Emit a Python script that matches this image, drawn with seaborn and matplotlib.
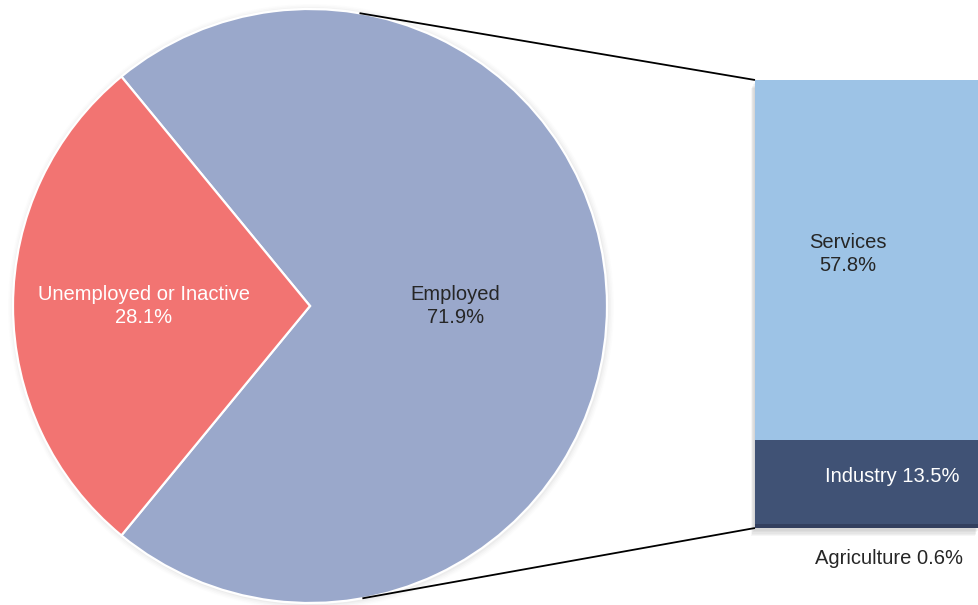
import numpy as np
import matplotlib
matplotlib.use("Agg")
import matplotlib.pyplot as plt
import matplotlib.patheffects as pe
from matplotlib.patches import Circle
import seaborn as sns

sns.set_theme(style="white")
plt.rcParams["font.family"] = ["Liberation Sans", "DejaVu Sans"]

# Population status (pie)
pie_labels = ["Employed", "Unemployed or Inactive"]
pie_values = [71.9, 28.1]
pie_colors = ["#9AA8CB", "#F27472"]

# Breakdown of the employed share by sector (stacked bar, bottom to top)
sector_labels = ["Agriculture", "Industry", "Services"]
sector_values = [0.6, 13.5, 57.8]
sector_colors = ["#333F5E", "#405275", "#9DC3E6"]

W, H = 979, 605
fig = plt.figure(figsize=(W / 100, H / 100), dpi=100)

# stacked bar of the employed share
bx0, by0, bw, bh = 755, 77, 224, 448
bax = fig.add_axes([bx0 / W, by0 / H, bw / W, bh / H])
bax.set_zorder(1)
cum = np.cumsum(sector_values)
for k in range(len(cum) - 1, -1, -1):
    sns.barplot(x=[0], y=[cum[k]], color=sector_colors[k], width=1.0,
                saturation=1, ax=bax)
total = cum[-1]
bax.set_xlim(-0.5, 0.5)
bax.set_ylim(0, total)
bax.axis("off")
for p in bax.patches:
    p.set_linewidth(0)
top_bar = bax.patches[0]
top_bar.set_clip_on(False)
top_bar.set_path_effects(
    [pe.SimplePatchShadow(offset=(-o * 0.5, -o), shadow_rgbFace="#808080",
                          alpha=0.07) for o in (6, 5, 4, 3, 2)]
    + [pe.Normal()])

# main drawing area in pixel units
ax = fig.add_axes([0, 0, 1, 1])
ax.set_zorder(2)
ax.patch.set_visible(False)

cx, cy, R = 310, 299, 297

# soft shadow around the pie
for i, a in enumerate([0.05, 0.04, 0.03, 0.02]):
    ax.add_patch(Circle((cx + 1, cy - 1), R + 1.5 + i * 1.5, color="#808080",
                        alpha=a, lw=0, zorder=0))

unemp_share = pie_values[1] / sum(pie_values) * 360
start = 180 + unemp_share / 2
wedges, _ = ax.pie(pie_values, colors=pie_colors, startangle=start,
                   center=(cx, cy), radius=R, counterclock=True,
                   wedgeprops=dict(edgecolor="white", linewidth=1.6))
for w in wedges:
    w.set_zorder(2)

ax.set_xlim(0, W)
ax.set_ylim(0, H)
ax.set_aspect("equal")
ax.axis("off")

# pie labels
text_dark = "#262626"
fs = 14.5
ls = 1.3
label_r = [0.49, 0.56]
label_c = [text_dark, "white"]
for w, lab, v, rr, c in zip(wedges, pie_labels, pie_values, label_r, label_c):
    mid = np.deg2rad((w.theta1 + w.theta2) / 2)
    ax.text(cx + rr * R * np.cos(mid), cy + rr * R * np.sin(mid),
            f"{lab}\n{v:.1f}%", ha="center", va="center", color=c,
            fontsize=fs, linespacing=ls, zorder=5)

# connector lines: tangents from the bar corners to the pie
for py in (by0 + bh, by0):
    dx, dy = bx0 - cx, py - cy
    d = np.hypot(dx, dy)
    base = np.arctan2(dy, dx)
    off = np.arccos(R / d)
    ang = base + off if dy > 0 else base - off
    tx, ty = cx + R * np.cos(ang), cy + R * np.sin(ang)
    ax.plot([tx, bx0], [ty, py], color="black", lw=1.3, zorder=3,
            solid_capstyle="butt")

# sector labels
ax.text(848, H - 254, f"{sector_labels[2]}\n{sector_values[2]:.1f}%",
        ha="center", va="center", color=text_dark, fontsize=fs,
        linespacing=ls, zorder=5)
ax.text(892, H - 476, f"{sector_labels[1]} {sector_values[1]:.1f}%",
        ha="center", va="center", color="white", fontsize=fs, zorder=5)
ax.text(889, H - 558, f"{sector_labels[0]} {sector_values[0]:.1f}%",
        ha="center", va="center", color=text_dark, fontsize=fs, zorder=5)

fig.savefig("out.png", dpi=100, facecolor="white")
